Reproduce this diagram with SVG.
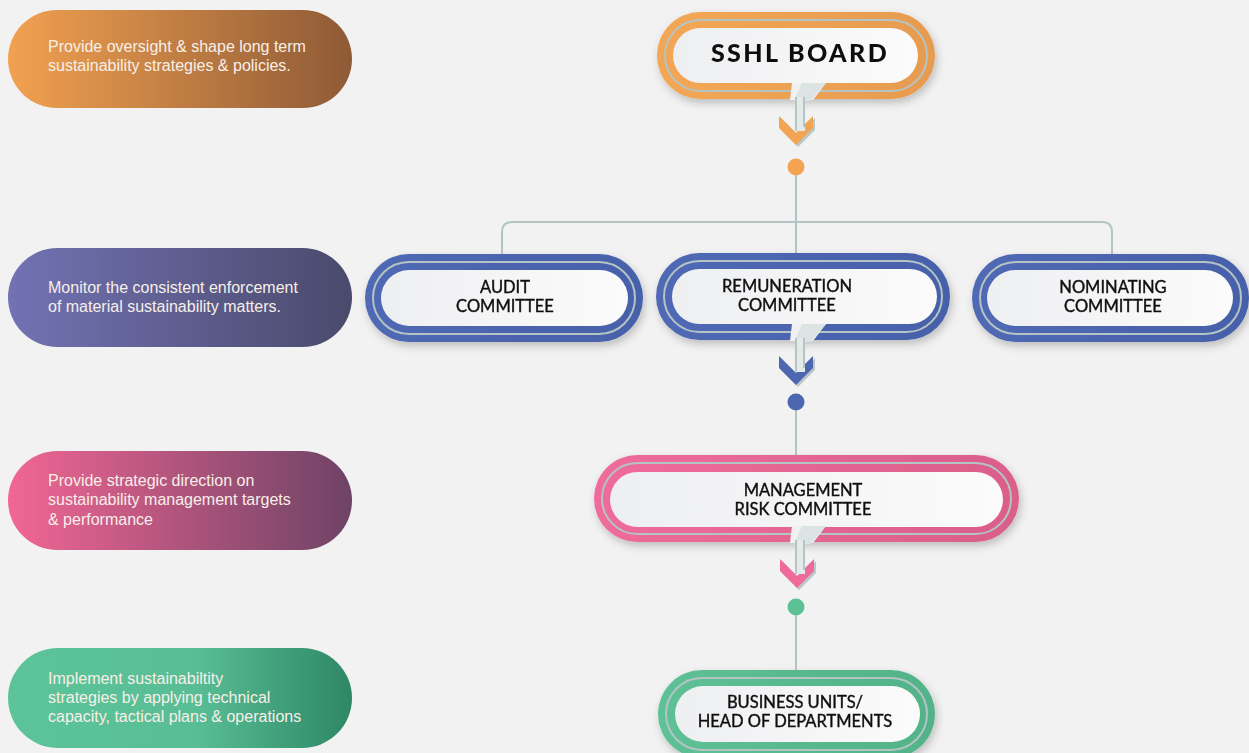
<svg xmlns="http://www.w3.org/2000/svg" width="1249" height="753" viewBox="0 0 1249 753">
<defs>
<linearGradient id="gOrange" x1="0" x2="1" y1="0" y2="0"><stop offset="0" stop-color="#F2A150"/><stop offset="1" stop-color="#8E5A36"/></linearGradient>
<linearGradient id="gPurple" x1="0" x2="1" y1="0" y2="0"><stop offset="0" stop-color="#7272B4"/><stop offset="1" stop-color="#4A4A6C"/></linearGradient>
<linearGradient id="gPink" x1="0" x2="1" y1="0" y2="0"><stop offset="0" stop-color="#F26694"/><stop offset="1" stop-color="#6E4366"/></linearGradient>
<linearGradient id="gGreen" x1="0" x2="1" y1="0" y2="0"><stop offset="0" stop-color="#5DC49A"/><stop offset="0.55" stop-color="#58BD94"/><stop offset="1" stop-color="#2E8766"/></linearGradient>
<linearGradient id="rOrange" x1="0" x2="1"><stop offset="0" stop-color="#F3A755"/><stop offset="1" stop-color="#E69B50"/></linearGradient>
<linearGradient id="rBlue" x1="0" x2="1"><stop offset="0" stop-color="#5069B4"/><stop offset="1" stop-color="#4760AA"/></linearGradient>
<linearGradient id="rPink" x1="0" x2="1"><stop offset="0" stop-color="#EF6C9A"/><stop offset="1" stop-color="#DA5E89"/></linearGradient>
<linearGradient id="rGreen" x1="0" x2="1"><stop offset="0" stop-color="#5EC196"/><stop offset="1" stop-color="#52B288"/></linearGradient>
<linearGradient id="white" x1="0" x2="1"><stop offset="0" stop-color="#EEEFF1"/><stop offset="1" stop-color="#FBFBFB"/></linearGradient>
<filter id="sh" x="-10%" y="-30%" width="120%" height="170%"><feDropShadow dx="2" dy="4" stdDeviation="4" flood-color="#000" flood-opacity="0.22"/></filter>
<g id="tail">
<polygon points="-4,-16 30,-16 17,1 -6,1" fill="#F1F1F1"/>
<polygon points="6,-16 30,-16 14,2 -2,2" fill="#DCE3E3"/>
<rect x="-1" y="-2" width="10" height="34" fill="#E4EAEA"/>
<line x1="0" y1="-2" x2="0" y2="32" stroke="#B5C5C5" stroke-width="2"/>
<line x1="8" y1="-2" x2="8" y2="28" stroke="#B5C5C5" stroke-width="2"/>
</g>
</defs>
<style>
.lt{font-family:"Liberation Sans",Arial,sans-serif;font-size:16px;fill:#F7EFE8}
.nt{font-family:Lato,"Noto Sans",sans-serif;font-size:16.5px;fill:#111;text-anchor:middle;stroke:#111;stroke-width:0.4}
.gl{fill:none;stroke:#B4C4C4;stroke-width:2}
.wp{fill:url(#white)}
.conn{fill:none;stroke:#B4C4C4;stroke-width:2}
</style>
<rect x="0" y="0" width="1249" height="753" fill="#F2F2F2"/>

<!-- left description pills -->
<g id="desc-board">
<rect x="8" y="10" width="344" height="98" rx="49" fill="url(#gOrange)"/>
<text class="lt" x="48" y="52">Provide oversight &amp; shape long term</text>
<text class="lt" x="48" y="71">sustainability strategies &amp; policies.</text>
</g>
<g id="desc-committees">
<rect x="8" y="248" width="344" height="99" rx="49.5" fill="url(#gPurple)"/>
<text class="lt" x="48" y="293">Monitor the consistent enforcement</text>
<text class="lt" x="48" y="312">of material sustainability matters.</text>
</g>
<g id="desc-mgmt">
<rect x="8" y="451" width="344" height="99" rx="49.5" fill="url(#gPink)"/>
<text class="lt" x="48" y="486">Provide strategic direction on</text>
<text class="lt" x="48" y="505">sustainability management targets</text>
<text class="lt" x="48" y="525">&amp; performance</text>
</g>
<g id="desc-bu">
<rect x="8" y="648" width="344" height="100" rx="50" fill="url(#gGreen)"/>
<text class="lt" x="48" y="684">Implement sustainabiltity</text>
<text class="lt" x="48" y="703">strategies by applying technical</text>
<text class="lt" x="48" y="722">capacity, tactical plans &amp; operations</text>
</g>

<!-- connectors -->
<g id="connectors">
<path class="conn" d="M796,175 V254"/>
<path class="conn" d="M502,256 V232 Q502,222 512,222 H1102 Q1112,222 1112,232 V256"/>
<path class="conn" d="M796,410 V458"/>
<path class="conn" d="M796,615 V672"/>
<g id="arrow1">
<polygon points="781,118 798,135 815,118 815,130 798,147 781,130" fill="#B9C7C7"/>
<polygon points="779,116 796,133 813,116 813,128 796,145 779,128" fill="#F2A452"/>
<circle cx="796" cy="167" r="8.5" fill="#F2A452"/>
</g>
<g id="arrow2">
<polygon points="781,358 798,375 815,358 815,370 798,387 781,370" fill="#B9C7C7"/>
<polygon points="779,356 796,373 813,356 813,368 796,385 779,368" fill="#4D66B0"/>
<circle cx="796" cy="402" r="8.5" fill="#4D66B0"/>
</g>
<g id="arrow3">
<polygon points="782,561 799,578 816,561 816,573 799,590 782,573" fill="#B9C7C7"/>
<polygon points="780,559 797,576 814,559 814,571 797,588 780,571" fill="#EE6A98"/>
<circle cx="796" cy="607" r="8.5" fill="#5EC196"/>
</g>
</g>

<!-- nodes -->
<g id="board" filter="url(#sh)">
<rect x="657" y="12" width="278" height="87" rx="43.5" fill="url(#rOrange)"/>
<rect x="665" y="20" width="262" height="71" rx="35.5" class="gl"/>
<rect x="673" y="28" width="245" height="55" rx="27.5" class="wp"/>
<text x="800" y="62" font-family="Lato,'Noto Sans',sans-serif" font-size="25" font-weight="900" letter-spacing="2.4" text-anchor="middle" fill="#111">SSHL BOARD</text>
</g>
<g id="audit" filter="url(#sh)">
<rect x="365" y="254" width="278" height="88" rx="44" fill="url(#rBlue)"/>
<rect x="373" y="262" width="262" height="72" rx="36" class="gl"/>
<rect x="381" y="270" width="247" height="56" rx="28" class="wp"/>
<text class="nt" x="505" y="293">AUDIT</text>
<text class="nt" x="505" y="312">COMMITTEE</text>
</g>
<g id="remuneration" filter="url(#sh)">
<rect x="656" y="253" width="294" height="87" rx="43.5" fill="url(#rBlue)"/>
<rect x="664" y="261" width="278" height="71" rx="35.5" class="gl"/>
<rect x="672" y="269" width="265" height="55" rx="27.5" class="wp"/>
<text class="nt" x="787" y="292">REMUNERATION</text>
<text class="nt" x="787" y="311">COMMITTEE</text>
</g>
<g id="nominating" filter="url(#sh)">
<rect x="972" y="254" width="277" height="88" rx="44" fill="url(#rBlue)"/>
<rect x="980" y="262" width="261" height="72" rx="36" class="gl"/>
<rect x="987" y="270" width="246" height="56" rx="28" class="wp"/>
<text class="nt" x="1113" y="293">NOMINATING</text>
<text class="nt" x="1113" y="312">COMMITTEE</text>
</g>
<g id="management" filter="url(#sh)">
<rect x="594" y="455" width="425" height="87" rx="43.5" fill="url(#rPink)"/>
<rect x="602" y="463" width="409" height="71" rx="35.5" class="gl"/>
<rect x="610" y="472" width="393" height="55" rx="27.5" class="wp"/>
<text class="nt" x="803" y="496">MANAGEMENT</text>
<text class="nt" x="803" y="515">RISK COMMITTEE</text>
</g>
<g id="business-units" filter="url(#sh)">
<rect x="658" y="670" width="277" height="88" rx="44" fill="url(#rGreen)"/>
<rect x="666" y="678" width="261" height="72" rx="36" class="gl"/>
<rect x="675" y="686" width="245" height="56" rx="28" class="wp"/>
<text class="nt" x="795" y="708">BUSINESS UNITS/</text>
<text class="nt" x="795" y="727">HEAD OF DEPARTMENTS</text>
</g>
<!-- tails leaving the nodes -->
<use href="#tail" x="796" y="99"/>
<use href="#tail" x="796" y="340"/>
<use href="#tail" x="796" y="542"/>
</svg>
